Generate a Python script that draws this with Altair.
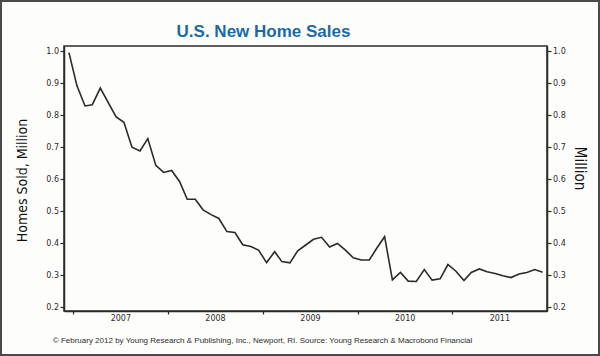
import altair as alt
import pandas as pd

# Monthly new home sales (millions), Dec 2006 .. Dec 2011
start_month = "2006-12-01"
sales = [
    0.996, 0.892, 0.829, 0.833, 0.885, 0.840, 0.795, 0.778, 0.700, 0.688,
    0.727, 0.643, 0.621, 0.627, 0.592, 0.537, 0.537, 0.504, 0.489, 0.477,
    0.436, 0.433, 0.395, 0.389, 0.378, 0.339, 0.373, 0.342, 0.338, 0.376,
    0.394, 0.412, 0.418, 0.388, 0.399, 0.378, 0.354, 0.347, 0.347, 0.383,
    0.420, 0.285, 0.308, 0.281, 0.280, 0.317, 0.284, 0.288, 0.333, 0.312,
    0.283, 0.308, 0.319, 0.310, 0.305, 0.298, 0.292, 0.303, 0.308, 0.317,
    0.309,
]
year_ticks = [2007, 2008, 2009, 2010, 2011]
y_ticks = [0.2, 0.3, 0.4, 0.5, 0.6, 0.7, 0.8, 0.9, 1.0]

title_text = "U.S. New Home Sales"
left_title = "Homes Sold, Million"
right_title = "Million"
footer = ("© February 2012 by Young Research & Publishing, Inc., Newport, RI. "
          "Source: Young Research & Macrobond Financial")

months = pd.date_range(start_month, periods=len(sales), freq="MS") + pd.Timedelta(days=14)
df = pd.DataFrame({"date": months.strftime("%Y-%m-%d"), "sales": sales})

COND = "DejaVu Sans Condensed, sans-serif"
ARIAL = "Liberation Sans, Arial, sans-serif"
TICKF = "DejaVu Sans"
INK = "#2b2b2b"

x_scale = alt.Scale(
    type="utc",
    domain=[alt.DateTime(year=2006, month=11, date=26, utc=True),
            alt.DateTime(year=2012, month=1, date=1, utc=True)],
)
y_scale = alt.Scale(domain=[0.1875, 1.0166], nice=False, zero=False)

x_axis = alt.Axis(
    orient="bottom",
    values=[alt.DateTime(year=y, month=1, date=1, utc=True) for y in year_ticks],
    labelExpr="utcFormat(datum.value, '%Y')",
    labelOffset=47, labelPadding=0, tickSize=3, tickColor=INK, tickWidth=1.2,
    labelFont=TICKF, labelFontSize=8, labelColor=INK, grid=False,
    domainColor=INK, domainWidth=1.5,
    title=footer, titleFont=ARIAL, titleFontSize=8.0, titleFontWeight="normal",
    titleColor="#2e2e2e", titleX=198, titleY=29, titleBaseline="middle",
    titleAlign="center",
)

left_axis = alt.Axis(
    orient="left", values=y_ticks, format=".1f", grid=False,
    tickSize=4, tickColor=INK, tickWidth=1.2, labelPadding=1.5,
    labelFont=TICKF, labelFontSize=8, labelColor=INK,
    domainColor=INK, domainWidth=1.5,
    title=left_title, titleFont=COND, titleFontSize=14, titleFontWeight="normal",
    titleColor="#111111", titleAngle=-90, titleX=-42, titleY=134,
    titleAlign="center", titleBaseline="middle",
)
right_axis = alt.Axis(
    orient="right", values=y_ticks, format=".1f", grid=False,
    tickSize=4, tickColor=INK, tickWidth=1.2, labelPadding=1.5,
    labelFont=TICKF, labelFontSize=8, labelColor=INK,
    domainColor=INK, domainWidth=1.5,
    title=right_title, titleFont=COND, titleFontSize=15, titleFontWeight="normal",
    titleColor="#111111", titleAngle=90, titleX=32, titleY=122,
    titleAlign="center", titleBaseline="middle",
)

base = alt.Chart(df)
line = base.mark_line(color="#2a2a2a", strokeWidth=1.6).encode(
    x=alt.X("date:T", scale=x_scale, axis=x_axis),
    y=alt.Y("sales:Q", scale=y_scale, axis=left_axis),
)
line_r = base.mark_line(strokeOpacity=0).encode(
    x=alt.X("date:T", scale=x_scale, axis=x_axis),
    y=alt.Y("sales:Q", scale=y_scale, axis=right_axis),
)
frame = alt.Chart(pd.DataFrame({"f": [0]})).mark_rect(
    fill=None, stroke="#4a4a4a", strokeWidth=2
).encode(
    x=alt.value(-63), x2=alt.value(535), y=alt.value(-45), y2=alt.value(44 + 265),
)

chart = alt.layer(line, line_r, frame).resolve_scale(
    x="shared", y="shared"
).resolve_axis(x="shared", y="independent").properties(
    width=483, height=265,
    padding={"left": 64, "top": 46, "right": 53, "bottom": 45},
    autosize=alt.AutoSizeParams(type="none"),
    background="#fdfdfb",
    title=alt.TitleParams(
        title_text, font=ARIAL, fontSize=17, fontWeight="bold", color="#1b6aa3",
        anchor="middle", frame="group", dx=-42, offset=-54, baseline="alphabetic",
    ),
).configure_view(stroke=INK, strokeWidth=1.5)

chart.save("out.html", embed_options={"renderer": "svg", "actions": False})
